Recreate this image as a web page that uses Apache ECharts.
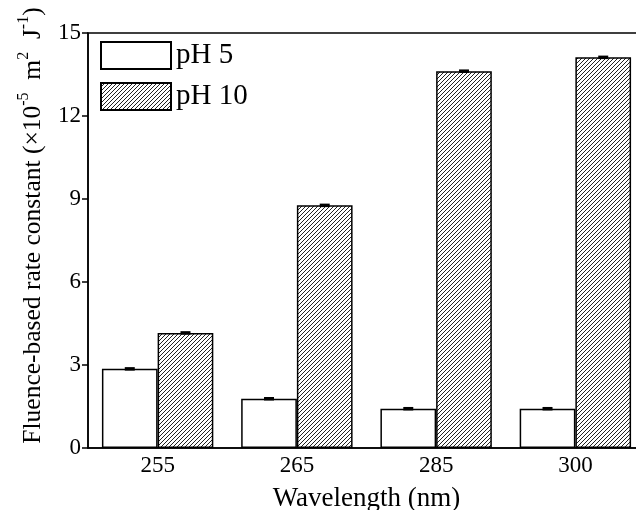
<!DOCTYPE html>
<html>
<head>
<meta charset="utf-8">
<script src="https://cdn.jsdelivr.net/npm/echarts@6/dist/echarts.min.js"></script>
<style>html,body{margin:0;padding:0;background:#fff}#c{width:636px;height:510px}</style>
</head>
<body>
<div id="c"></div>
<script>
var categories = ['255', '265', '285', '300'];
var ph5 = [2.86, 1.78, 1.42, 1.42];
var ph10 = [4.16, 8.77, 13.62, 14.12];
var ph5Err = [0.05, 0.05, 0.04, 0.04];
var ph10Err = [0.05, 0.05, 0.05, 0.05];
var yTicks = [0, 3, 6, 9, 12, 15];

var FONT = "'Liberation Serif', 'Times New Roman', serif";

function hatch() {
  var c = document.createElement('canvas');
  c.width = 4; c.height = 4;
  var g = c.getContext('2d');
  g.fillStyle = '#fff'; g.fillRect(0, 0, 4, 4);
  g.strokeStyle = '#222'; g.lineWidth = 1;
  g.beginPath();
  g.moveTo(-1, 5); g.lineTo(5, -1);
  g.moveTo(-1, 1); g.lineTo(1, -1);
  g.moveTo(3, 5); g.lineTo(5, 3);
  g.stroke();
  return c;
}
var pattern = {image: hatch(), repeat: 'repeat'};

var BAR_FRAC = 0.40;
function errRender(side, errs) {
  return function (params, api) {
    var idx = api.value(0);
    var v = api.value(1);
    var e = errs[params.dataIndex];
    var center = api.coord([idx, v]);
    var bw = api.size([1, 0])[0] * BAR_FRAC;
    var x = center[0] + side * bw / 2;
    var yTop = api.coord([idx, v + e])[1];
    var yBot = api.coord([idx, v - e])[1];
    var h = Math.max(3.5, yBot - yTop);
    var yc = (yTop + yBot) / 2;
    return {
      type: 'rect',
      shape: {x: x - 5, y: yc - h / 2, width: 10, height: h},
      style: {fill: '#000'}
    };
  };
}

var chart = echarts.init(document.getElementById('c'), null, {renderer: 'canvas'});
chart.setOption({
  animation: false,
  backgroundColor: '#fff',
  grid: {left: 88, top: 33, width: 557, height: 415, outerBoundsMode: 'none', containLabel: false,
    show: true, borderColor: '#000', borderWidth: 1.5, backgroundColor: 'transparent'},
  legend: {
    orient: 'vertical', left: 95, top: 36, itemWidth: 70, itemHeight: 27, itemGap: 12,
    icon: 'rect',
    textStyle: {fontFamily: FONT, fontSize: 29, color: '#000'},
    data: ['pH 5', 'pH 10']
  },
  xAxis: {
    type: 'category', data: categories,
    axisLine: {lineStyle: {color: '#000', width: 1.5}},
    axisTick: {alignWithLabel: true, length: 6, lineStyle: {color: '#000', width: 1.5}},
    axisLabel: {fontFamily: FONT, fontSize: 23, color: '#000', margin: 6},
    name: 'Wavelength (nm)', nameLocation: 'middle', nameGap: 37,
    nameTextStyle: {fontFamily: FONT, fontSize: 27, color: '#000'}
  },
  yAxis: {
    type: 'value', min: 0, max: 15, interval: 3,
    axisLine: {show: true, lineStyle: {color: '#000', width: 1.5}},
    axisTick: {show: true, length: 6, lineStyle: {color: '#000', width: 1.5}},
    splitLine: {show: false},
    axisLabel: {fontFamily: FONT, fontSize: 23, color: '#000', margin: 7,
      formatter: function (v) { return yTicks.indexOf(v) >= 0 ? String(v) : ''; }},
    name: '{a|Fluence-based rate constant (\u00d710}{s|-5}{a|  m}{s|2}{a|  J}{s|-1}{a|)}',
    nameLocation: 'middle', nameRotate: 90, nameGap: 42,
    nameTextStyle: {
      fontFamily: FONT, color: '#000', padding: [0, 0, 0, 30],
      rich: {
        a: {fontFamily: FONT, fontSize: 25.5, color: '#000', lineHeight: 30, verticalAlign: 'bottom'},
        s: {fontFamily: FONT, fontSize: 16, color: '#000', lineHeight: 30, verticalAlign: 'top'}
      }
    }
  },
  series: [
    {name: 'pH 5', type: 'bar', data: ph5, barWidth: (BAR_FRAC * 100) + '%', barGap: '0%',
      itemStyle: {color: '#fff', borderColor: '#000', borderWidth: 1.5}},
    {name: 'pH 10', type: 'bar', data: ph10, barWidth: (BAR_FRAC * 100) + '%', barGap: '0%',
      itemStyle: {color: pattern, borderColor: '#000', borderWidth: 1.5}},
    {type: 'custom', renderItem: errRender(-1, ph5Err), z: 5,
      data: ph5.map(function (v, i) { return [i, v]; })},
    {type: 'custom', renderItem: errRender(1, ph10Err), z: 5,
      data: ph10.map(function (v, i) { return [i, v]; })}
  ]
});
</script>
</body>
</html>
